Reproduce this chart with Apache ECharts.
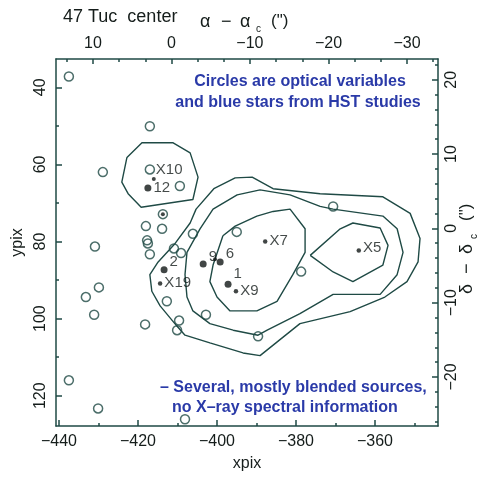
<!DOCTYPE html>
<html><head><meta charset="utf-8">
<script src="https://cdn.jsdelivr.net/npm/echarts@6/dist/echarts.min.js"></script>
<style>html,body{margin:0;padding:0;background:#fff}#c{width:483px;height:477px}</style>
</head><body><div id="c"></div>
<script>
// Axis tick values
const xpixTicks = [-440, -420, -400, -380, -360];
const xpixMinor = [-430, -410, -390, -370, -350];
const ypixTicks = [40, 60, 80, 100, 120];
const ypixMinor = [50, 70, 90, 110];
const raTicks = [10, 0, -10, -20, -30];
const raMinor = [13.33, 6.67, 3.33, -3.33, -6.67, -13.33, -16.67, -23.33, -26.67, -33.33];
const decTicks = [20, 10, 0, -10, -20];
const decMinor = [22, 18, 16, 14, 12, 8, 6, 4, 2, -2, -4, -6, -8, -12, -14, -16, -18, -22, -24, -26];

// Count contours (xpix, ypix)
const contourX10 = [[-422.8,58.2],[-419.0,54.4],[-411.1,54.4],[-406.8,57.0],[-404.8,63.3],[-406.1,69.1],[-419.2,71.1],[-422.5,67.6],[-424.1,64.6],[-422.8,58.2]];
const contourOuter = [[-405.3,71.6],[-400.8,66.3],[-395.4,63.5],[-391.1,63.3],[-385.8,66.3],[-373.9,67.6],[-358.0,68.4],[-351.1,72.7],[-348.6,79.2],[-349.1,85.3],[-351.9,90.4],[-357.5,94.4],[-366.3,98.2],[-379.0,101.3],[-389.1,109.6],[-393.4,108.9],[-401.8,106.3],[-408.1,104.3],[-410.1,102.0],[-414.4,96.7],[-416.5,92.9],[-417.0,88.6],[-414.9,85.3],[-410.6,80.5],[-406.8,75.2],[-405.3,71.6]];
const contourMiddle = [[-404.3,76.7],[-401.0,71.6],[-394.9,67.9],[-389.1,66.6],[-381.5,67.9],[-373.9,70.9],[-370.6,71.6],[-358.0,73.4],[-354.4,76.7],[-352.9,82.8],[-354.4,88.6],[-358.7,93.7],[-370.6,93.7],[-379.0,98.7],[-387.3,103.0],[-389.6,104.3],[-395.9,103.0],[-401.8,101.3],[-406.1,98.0],[-407.6,94.4],[-408.1,88.6],[-407.6,82.8],[-404.3,76.7]];
const contourInner = [[-398.5,78.5],[-395.4,76.0],[-389.9,73.4],[-385.8,72.2],[-381.5,71.6],[-377.7,76.7],[-377.7,82.8],[-380.8,88.6],[-384.8,95.5],[-389.9,98.0],[-396.7,98.0],[-400.0,94.4],[-401.8,90.4],[-401.0,86.1],[-398.5,78.5]];
const contourX5 = [[-376.4,83.6],[-368.8,76.7],[-365.6,75.2],[-358.7,76.5],[-356.7,81.0],[-358.0,86.1],[-365.6,90.4],[-370.6,87.9],[-376.4,83.6]];

// Optical variables and blue stragglers (open circles)
const opticalStars = [[-437.5,37.2],[-417.0,50.1],[-428.9,62.0],[-417.0,61.3],[-409.4,65.6],[-413.7,72.9],[-418.0,76.0],[-413.9,76.7],[-430.9,81.3],[-417.7,79.7],[-417.5,80.5],[-417.0,83.3],[-410.9,81.8],[-409.1,83.0],[-406.1,78.0],[-429.9,91.9],[-433.2,94.4],[-431.1,99.0],[-418.2,101.5],[-412.7,95.5],[-409.6,100.5],[-410.1,103.0],[-402.8,99.0],[-389.6,104.6],[-408.1,126.1],[-437.5,116.0],[-430.1,123.3],[-395.0,77.5],[-378.7,87.8],[-370.6,70.9]];

// X-ray sources
const brightNames = ['12', '2', '9', '6', '1'];
const brightPos = [[-417.5,66.1],[-413.4,87.3],[-403.5,85.8],[-399.2,85.3],[-397.2,91.1]];
const faintNames = ['X19', 'X9', 'X7', 'X5'];
const faintPos = [[-414.4,90.9],[-395.2,92.9],[-387.8,80.0],[-364.1,82.3]];
const extraDots = [[-416.0,63.8],[-400.5,84.6],[-413.7,72.9]];
const x10Name = ['X10'];
const x10Pos = [[-417.0,61.3]];

// label nudges (pixels) per source name
const labelNudge = {'12': [0, 0], '2': [0, -8], '9': [0, -7], '6': [0, -8], '1': [0, -10],
  'X19': [0, -1], 'X9': [0, 0], 'X7': [0, -1], 'X5': [0, -3], 'X10': [4, 0]};

const INK = '#1f4a45';
const TXT = '#151d1b';
const BLUE = '#2a3aa8';
const FONT = '"Liberation Sans", Arial, sans-serif';

const chart = echarts.init(document.getElementById('c'), null, {renderer: 'canvas'});

function contour(data) {
  return {type: 'line', data: data, xAxisIndex: 0, yAxisIndex: 0, showSymbol: false, silent: true,
    lineStyle: {color: INK, width: 1.4}, z: 2, animation: false};
}
function labelled(names, pos, size) {
  return {type: 'scatter', xAxisIndex: 0, yAxisIndex: 0, symbolSize: size, animation: false,
    itemStyle: {color: '#111816'}, z: 4,
    data: pos.map((p, i) => ({value: p, name: names[i], label: {offset: labelNudge[names[i]]}})),
    label: {show: true, position: 'right', distance: 2, formatter: '{b}',
      color: TXT, fontSize: 15, fontFamily: FONT}};
}
const minus = v => String(v).replace('-', '\u2212');
const baseLabel = {color: TXT, fontSize: 16, fontFamily: FONT};
const axisLine = {show: true, onZero: false, lineStyle: {color: INK, width: 1.5}};
const tickStyle = {color: INK, width: 1.5};

function minorAxis(extra) {
  return Object.assign({type: 'value', axisLine: {show: false, onZero: false}, axisLabel: {show: false},
    splitLine: {show: false}}, extra);
}

chart.setOption({
  animation: false,
  grid: {left: 56, top: 59, right: 45, bottom: 42, show: false},
  xAxis: [
    {type: 'value', position: 'bottom', min: -440.76, max: -344.05, axisLine: axisLine,
      axisTick: {show: true, inside: true, length: 6, customValues: xpixTicks, lineStyle: tickStyle},
      axisLabel: {show: true, customValues: xpixTicks, margin: 8, ...baseLabel, formatter: minus},
      splitLine: {show: false},
      name: 'xpix', nameLocation: 'middle', nameGap: 30, nameTextStyle: {...baseLabel, fontSize: 16}},
    minorAxis({position: 'bottom', min: -440.76, max: -344.05,
      axisTick: {show: true, inside: true, length: 3, customValues: xpixMinor, lineStyle: tickStyle}}),
    {type: 'value', position: 'top', inverse: true, min: -33.95, max: 14.7, axisLine: axisLine,
      axisTick: {show: true, inside: true, length: 5, customValues: raTicks, lineStyle: tickStyle},
      axisLabel: {show: true, customValues: raTicks, margin: 7, ...baseLabel, formatter: minus},
      splitLine: {show: false}},
    minorAxis({position: 'top', inverse: true, min: -33.95, max: 14.7,
      axisTick: {show: true, inside: true, length: 3, customValues: raMinor, lineStyle: tickStyle}})
  ],
  yAxis: [
    {type: 'value', position: 'left', inverse: true, min: 32.66, max: 127.85, axisLine: axisLine,
      axisTick: {show: true, inside: true, length: 6, customValues: ypixTicks, lineStyle: tickStyle},
      axisLabel: {show: true, customValues: ypixTicks, rotate: 90, margin: 7, ...baseLabel},
      splitLine: {show: false},
      name: 'ypix', nameLocation: 'middle', nameRotate: 90, nameGap: 23, nameTextStyle: {...baseLabel, fontSize: 16}},
    minorAxis({position: 'left', inverse: true, min: 32.66, max: 127.85,
      axisTick: {show: true, inside: true, length: 3, customValues: ypixMinor, lineStyle: tickStyle}}),
    {type: 'value', position: 'right', min: -26.6, max: 22.8, axisLine: axisLine,
      axisTick: {show: true, inside: true, length: 6, customValues: decTicks, lineStyle: tickStyle},
      axisLabel: {show: true, customValues: decTicks, rotate: 90, margin: 6, ...baseLabel, formatter: minus},
      splitLine: {show: false}},
    minorAxis({position: 'right', min: -26.6, max: 22.8,
      axisTick: {show: true, inside: true, length: 3, customValues: decMinor, lineStyle: tickStyle}})
  ],
  series: [
    contour(contourX10), contour(contourOuter), contour(contourMiddle), contour(contourInner), contour(contourX5),
    {type: 'scatter', xAxisIndex: 0, yAxisIndex: 0, data: opticalStars, symbol: 'circle', symbolSize: 9,
      itemStyle: {color: 'rgba(0,0,0,0)', borderColor: INK, borderWidth: 1.5}, z: 3, animation: false},
    {type: 'scatter', xAxisIndex: 0, yAxisIndex: 0, data: extraDots, symbolSize: 4,
      itemStyle: {color: '#111816'}, z: 4, animation: false},
    labelled(brightNames, brightPos, 7),
    labelled(faintNames, faintPos, 4.5),
    labelled(x10Name, x10Pos, 0)
  ],
  graphic: [
    {type: 'text', x: 63, y: 17, style: {text: '47 Tuc  center', fill: TXT, font: '18px ' + FONT, verticalAlign: 'middle'}},
    // top axis title: alpha - alpha_c (")
    {type: 'text', x: 200, y: 22, style: {text: '\u03b1', fill: TXT, font: '18px ' + FONT, verticalAlign: 'middle'}},
    {type: 'text', x: 221, y: 22, style: {text: '\u2212', fill: TXT, font: '18px ' + FONT, verticalAlign: 'middle'}},
    {type: 'text', x: 240, y: 22, style: {text: '\u03b1', fill: TXT, font: '18px ' + FONT, verticalAlign: 'middle'}},
    {type: 'text', x: 256, y: 29, style: {text: 'c', fill: TXT, font: '10px ' + FONT, verticalAlign: 'middle'}},
    {type: 'text', x: 271, y: 21, style: {text: '(")', fill: TXT, font: '17px ' + FONT, verticalAlign: 'middle'}},
    // right axis title: delta - delta_c ("), read bottom to top
    {type: 'text', x: 458, y: 294, rotation: Math.PI / 2, style: {text: '\u03b4', fill: TXT, font: '18px ' + FONT}},
    {type: 'text', x: 458, y: 274, rotation: Math.PI / 2, style: {text: '\u2212', fill: TXT, font: '18px ' + FONT}},
    {type: 'text', x: 458, y: 254, rotation: Math.PI / 2, style: {text: '\u03b4', fill: TXT, font: '18px ' + FONT}},
    {type: 'text', x: 469, y: 239, rotation: Math.PI / 2, style: {text: 'c', fill: TXT, font: '10px ' + FONT}},
    {type: 'text', x: 458, y: 221, rotation: Math.PI / 2, style: {text: '(")', fill: TXT, font: '17px ' + FONT}},
    // annotations
    {type: 'text', x: 300, y: 82, style: {text: 'Circles are optical variables', fill: BLUE, font: 'bold 16px ' + FONT, align: 'center', verticalAlign: 'middle'}},
    {type: 'text', x: 298, y: 103, style: {text: 'and blue stars from HST studies', fill: BLUE, font: 'bold 16px ' + FONT, align: 'center', verticalAlign: 'middle'}},
    {type: 'text', x: 160, y: 388, style: {text: '\u2013 Several, mostly blended sources,', fill: BLUE, font: 'bold 16px ' + FONT, verticalAlign: 'middle'}},
    {type: 'text', x: 172, y: 408, style: {text: 'no X\u2013ray spectral information', fill: BLUE, font: 'bold 16px ' + FONT, verticalAlign: 'middle'}}
  ]
});
</script></body></html>
